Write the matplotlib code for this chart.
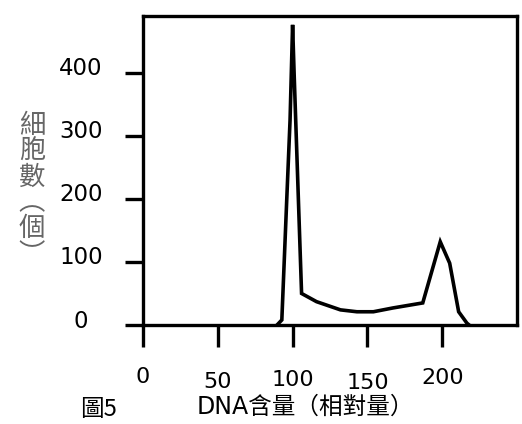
import matplotlib
matplotlib.use("Agg")
import matplotlib.pyplot as plt
from matplotlib.transforms import blended_transform_factory, ScaledTranslation

dna = [89.6, 92.8, 96.0, 98.3, 100.0, 101.0, 106.0, 116.0, 132.0, 143.0, 154.0, 167.0, 187.0, 198.7, 205.0, 211.0, 216.5, 218.0]
cells = [0, 8, 194, 325, 476, 400, 50, 37, 24, 21, 21, 27, 35, 132, 98, 21, 3, 0]
xticks = [0, 50, 100, 150, 200]
yticks = [0, 100, 200, 300, 400]
xtick_labels = ["0", "50", "100", "150", "200"]
ytick_labels = ["0", "100", "200", "300", "400"]
# small vertical jitter of the x tick labels, in pixels (as in the reference)
xlabel_dy = [-52, -57, -55, -58, -53]

W, H = 522, 424
DPI = 100
fig = plt.figure(figsize=(W / DPI, H / DPI), dpi=DPI)
ax = fig.add_axes([143 / W, (H - 325) / H, (517 - 143) / W, (325 - 16) / H])
ax.plot(dna, cells, color="black", lw=2.6, solid_joinstyle="miter")
ax.set_xlim(0, 250)
ax.set_ylim(0, 490)
for s in ax.spines.values():
    s.set_linewidth(2.4)
ax.set_xticks(xticks)
ax.set_yticks(yticks)
ax.set_xticklabels([])
ax.set_yticklabels([])
ax.tick_params(axis="x", direction="out", length=16, width=2.4)
ax.tick_params(axis="y", direction="out", length=13, width=2.4)

tfam = ["DejaVu Sans"]
tx = blended_transform_factory(ax.transData, ax.transAxes)
for v, lab, dy in zip(xticks, xtick_labels, xlabel_dy):
    off = ScaledTranslation(0, dy / DPI, fig.dpi_scale_trans)
    ax.text(v, 0, lab, transform=tx + off, ha="center", va="center",
            fontsize=16, family=tfam)
ty = blended_transform_factory(fig.transFigure, ax.transData)
for v, lab in zip(yticks, ytick_labels):
    off = ScaledTranslation(0, 4 / DPI, fig.dpi_scale_trans)
    fig.text(81 / W, v, lab, transform=ty + off, ha="center", va="center",
             fontsize=16.5, family=tfam)

fam = ["Noto Sans CJK TC", "DejaVu Sans"]
fig.text(32 / W, 1 - 190 / H, "細\n胞\n數\n︵\n個\n︶", ha="center", va="center",
         fontsize=19, color="#666666", family=fam, linespacing=0.95)
fig.text(305 / W, 1 - 407 / H, "DNA含量（相對量）", ha="center", va="center",
         fontsize=17, color="black", family=["DejaVu Sans", "Noto Sans CJK TC"])
fig.text(98 / W, 1 - 410 / H, "圖5", ha="center", va="center",
         fontsize=17, color="black", family=["Noto Sans CJK TC", "DejaVu Sans"])

fig.savefig("out.png", dpi=DPI)
